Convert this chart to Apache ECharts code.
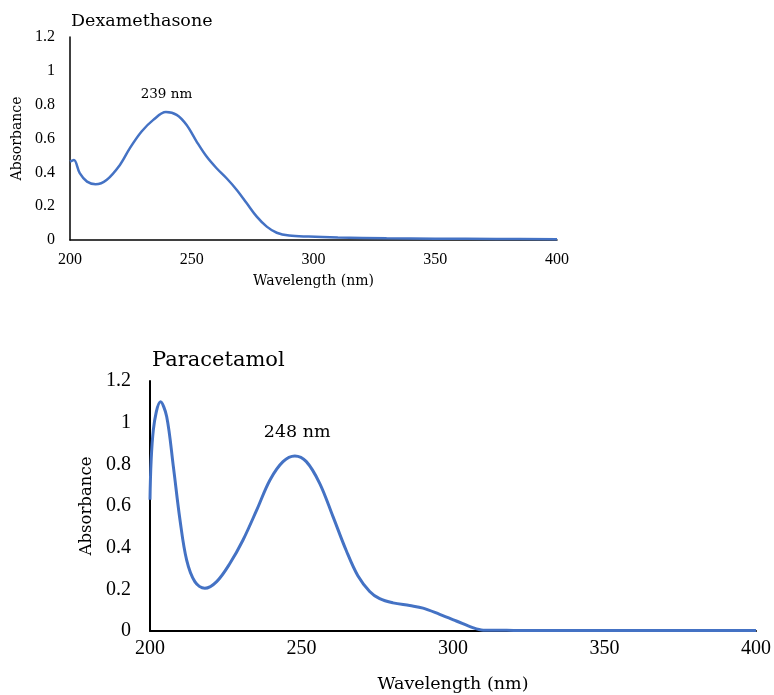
<!DOCTYPE html>
<html>
<head>
<meta charset="utf-8">
<script src="https://cdn.jsdelivr.net/npm/echarts@6/dist/echarts.min.js"></script>
<style>
html,body{margin:0;padding:0;background:#fff;}
#chart{width:774px;height:695px;}
</style>
</head>
<body>
<div id="chart"></div>
<script>
// ---- Data ----
const xTicks = [200, 250, 300, 350, 400];
const yTicks = [0, 0.2, 0.4, 0.6, 0.8, 1, 1.2];

const dexWavelength = [200, 201.6, 204, 207, 210.5, 215, 220.5, 224.6, 229.4, 234.2, 239.4, 243.8, 247.9, 252, 256.1, 260.2, 264.3, 268.5, 272.6, 276.7, 280.8, 284.9, 290, 298, 310, 330, 350, 375, 400];
const dexAbsorbance = [0.463, 0.473, 0.395, 0.345, 0.330, 0.355, 0.444, 0.543, 0.641, 0.710, 0.756, 0.740, 0.680, 0.582, 0.493, 0.424, 0.365, 0.296, 0.217, 0.138, 0.079, 0.043, 0.026, 0.020, 0.015, 0.010, 0.008, 0.006, 0.005];

const paraWavelength = [200, 201.1, 203.5, 205.5, 207.7, 209.9, 212.1, 214.8, 218.1, 222, 226.4, 230.7, 235.2, 239.6, 243.9, 247.8, 251.6, 256, 260.4, 264.8, 268.6, 272.5, 275.8, 280.2, 285.7, 290.1, 295.6, 301.1, 306.5, 310, 320, 350, 400];
const paraAbsorbance = [0.63, 0.965, 1.10, 1.03, 0.79, 0.533, 0.34, 0.237, 0.205, 0.237, 0.325, 0.437, 0.58, 0.725, 0.813, 0.84, 0.813, 0.709, 0.549, 0.385, 0.265, 0.190, 0.155, 0.135, 0.122, 0.110, 0.080, 0.048, 0.016, 0.004, 0.003, 0.002, 0.002];

const titles = ['Dexamethasone', 'Paracetamol'];
const xAxisName = 'Wavelength (nm)';
const yAxisName = 'Absorbance';
const dexPeak = { wavelength: 239.6, labelY: 0.86, text: '239 nm' };
const paraPeak = { wavelength: 248.6, labelY: 0.955, text: '248 nm' };

// ---- Styles ----
const WORD_FONT = '"DejaVu Serif", serif';
const NUM_FONT = '"Liberation Serif", serif';
const LINE_COLOR = '#4472C4';

function zip(xs, ys) { return xs.map((x, i) => [x, ys[i]]); }

function xAxisCfg(gridIndex, fs, nfs, margin, nameGap, lw) {
  return {
    type: 'value', gridIndex, min: xTicks[0], max: xTicks[xTicks.length - 1], interval: 50,
    name: xAxisName, nameLocation: 'middle', nameGap,
    nameTextStyle: { fontFamily: WORD_FONT, fontSize: fs, color: '#000' },
    axisLine: { onZero: false, lineStyle: { color: '#000', width: lw } },
    axisTick: { show: false }, splitLine: { show: false },
    axisLabel: { fontFamily: NUM_FONT, fontSize: nfs, color: '#000', margin }
  };
}
function yAxisCfg(gridIndex, fs, nfs, margin, nameGap, lw) {
  return {
    type: 'value', gridIndex, min: yTicks[0], max: yTicks[yTicks.length - 1], interval: 0.2,
    name: yAxisName, nameLocation: 'middle', nameGap,
    nameTextStyle: { fontFamily: WORD_FONT, fontSize: fs, color: '#000' },
    axisLine: { show: true, lineStyle: { color: '#000', width: lw } },
    axisTick: { show: false }, splitLine: { show: false },
    axisLabel: { fontFamily: NUM_FONT, fontSize: nfs, color: '#000', margin }
  };
}

const chart = echarts.init(document.getElementById('chart'), null, { renderer: 'canvas' });
chart.setOption({
  animation: false,
  backgroundColor: '#fff',
  title: [
    { text: titles[0], left: 71, top: 12, padding: 0,
      textStyle: { fontFamily: WORD_FONT, fontSize: 17.5, fontWeight: 'normal', color: '#000' } },
    { text: titles[1], left: 152, top: 350, padding: 0,
      textStyle: { fontFamily: WORD_FONT, fontSize: 21, fontWeight: 'normal', color: '#000' } }
  ],
  grid: [
    { left: 70, right: 217, top: 37, height: 203 },
    { left: 150, right: 17, top: 381, height: 250 }
  ],
  xAxis: [
    xAxisCfg(0, 14, 16, 12, 34, 1.5),
    xAxisCfg(1, 17.5, 20, 8, 44, 2)
  ],
  yAxis: [
    yAxisCfg(0, 14, 16, 15, 43, 1.5),
    yAxisCfg(1, 16.5, 20, 19, 54, 2)
  ],
  series: [
    {
      type: 'line', xAxisIndex: 0, yAxisIndex: 0, data: zip(dexWavelength, dexAbsorbance),
      showSymbol: false, smooth: 0.35, lineStyle: { color: LINE_COLOR, width: 2.5 },
      markPoint: {
        symbol: 'circle', symbolSize: 0,
        label: { show: true, position: 'inside', formatter: dexPeak.text, fontFamily: WORD_FONT, fontSize: 13.5, color: '#000' },
        data: [{ coord: [dexPeak.wavelength, dexPeak.labelY] }]
      }
    },
    {
      type: 'line', xAxisIndex: 1, yAxisIndex: 1, data: zip(paraWavelength, paraAbsorbance),
      showSymbol: false, smooth: 0.35, lineStyle: { color: LINE_COLOR, width: 3 },
      markPoint: {
        symbol: 'circle', symbolSize: 0,
        label: { show: true, position: 'inside', formatter: paraPeak.text, fontFamily: WORD_FONT, fontSize: 17.5, color: '#000' },
        data: [{ coord: [paraPeak.wavelength, paraPeak.labelY] }]
      }
    }
  ]
});
</script>
</body>
</html>
